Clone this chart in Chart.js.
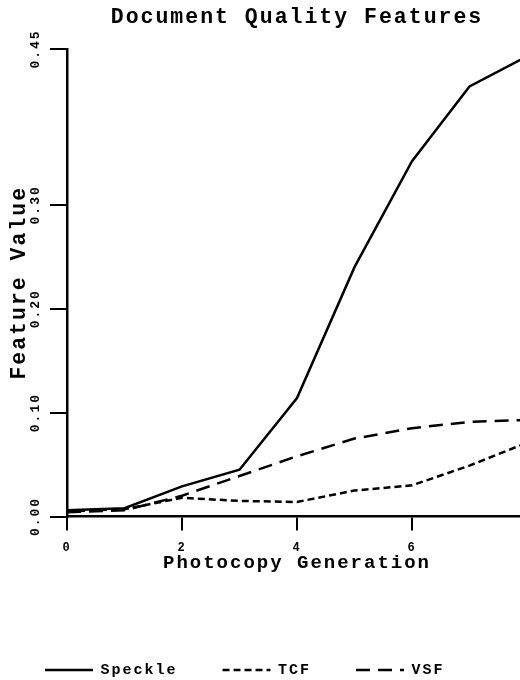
<!DOCTYPE html>
<html>
<head>
<meta charset="utf-8">
<script src="https://cdn.jsdelivr.net/npm/chart.js@4/dist/chart.umd.min.js"></script>
<style>
  html, body { margin: 0; padding: 0; background: #fff; overflow: hidden; }
  #wrap { width: 520px; height: 680px; overflow: hidden; }
</style>
</head>
<body>
<div id="wrap"><canvas id="qualityChart" width="580" height="680"></canvas></div>
<script>
// ========================
// DATA
// ========================
const generations = [0, 1, 2, 3, 4, 5, 6, 7, 8];
const speckle = [0.006, 0.008, 0.029, 0.045, 0.114, 0.240, 0.342, 0.414, 0.443];
const tcf = [0.005, 0.007, 0.018, 0.015, 0.014, 0.025, 0.030, 0.049, 0.071];
const vsf = [0.004, 0.006, 0.020, 0.039, 0.058, 0.075, 0.085, 0.091, 0.093];
const yTickValues = [0, 0.10, 0.20, 0.30, 0.45];
const xTickValues = [0, 2, 4, 6, 8];

const mono = "'Liberation Mono', 'DejaVu Sans Mono', monospace";

// the scanned figure uses a wide typewriter face
const spacing = {
  id: "spacing",
  beforeUpdate(chart) { chart.ctx.letterSpacing = "2px"; },
  beforeDraw(chart) { chart.ctx.letterSpacing = "2px"; }
};

function series(label, values, dash) {
  return {
    label,
    data: generations.map((g, i) => ({ x: g, y: values[i] })),
    borderColor: "#000",
    backgroundColor: "#000",
    borderWidth: 2.5,
    borderDash: dash,
    pointRadius: 0,
    fill: false,
    tension: 0
  };
}

// legend samples should copy the dash of each line
function legendLabels(chart) {
  const items = Chart.defaults.plugins.legend.labels.generateLabels(chart);
  return items.map(item => {
    const ds = chart.data.datasets[item.datasetIndex];
    return { ...item, lineDash: ds.borderDash, lineWidth: 2.5, pointStyle: "line" };
  });
}

// ========================
// CHART RENDER
// ========================
const ctx = document.getElementById("qualityChart").getContext("2d");

new Chart(ctx, {
  type: "line",
  data: {
    datasets: [
      series("Speckle", speckle, []),
      series("TCF", tcf, [7, 4]),
      series("VSF", vsf, [14, 8])
    ]
  },
  plugins: [spacing],
  options: {
    responsive: false,
    animation: false,
    layout: { padding: { left: 0, right: 53, top: 0, bottom: -7.5 } },
    plugins: {
      title: {
        display: true,
        fullSize: false,
        text: "Document Quality Features",
        color: "#000",
        font: { family: mono, size: 21.5, weight: "bold", lineHeight: 1 },
        padding: { top: 7.25, bottom: 20.25 }
      },
      legend: {
        position: "bottom",
        align: "start",
        labels: {
          color: "#000",
          font: { family: mono, size: 15, weight: "bold" },
          usePointStyle: true,
          pointStyle: "line",
          pointStyleWidth: 48,
          boxHeight: 15,
          padding: 45,
          generateLabels: legendLabels
        }
      },
      tooltip: { enabled: false }
    },
    scales: {
      x: {
        type: "linear",
        min: 0,
        max: 8,
        afterBuildTicks: axis => { axis.ticks = xTickValues.map(v => ({ value: v })); },
        border: { color: "#000", width: 2.5 },
        grid: { drawOnChartArea: false, color: "#000", lineWidth: 2, tickLength: 14 },
        ticks: {
          color: "#000",
          font: { family: mono, size: 12, weight: "bold", lineHeight: 34 / 12 },
          padding: 0,
          maxRotation: 0,
          callback: v => String(v)
        },
        title: {
          display: true,
          text: "Photocopy Generation",
          color: "#000",
          font: { family: mono, size: 19, weight: "bold", lineHeight: 1 },
          padding: { top: -11, bottom: 45 }
        }
      },
      y: {
        min: 0,
        max: 0.45,
        afterBuildTicks: axis => { axis.ticks = yTickValues.map(v => ({ value: v })); },
        border: { color: "#000", width: 2.5 },
        grid: { drawOnChartArea: false, color: "#000", lineWidth: 2, tickLength: 17 },
        ticks: {
          color: "#000",
          font: { family: mono, size: 13, weight: "bold", lineHeight: 1 },
          minRotation: 90,
          maxRotation: 90,
          crossAlign: "center",
          padding: -5.6,
          callback: v => v.toFixed(2)
        },
        title: {
          display: true,
          text: "Feature Value",
          color: "#000",
          font: { family: mono, size: 21.5, weight: "bold", lineHeight: 1 },
          padding: { top: 9.25, bottom: 17.45 }
        }
      }
    }
  }
});
</script>
</body>
</html>
